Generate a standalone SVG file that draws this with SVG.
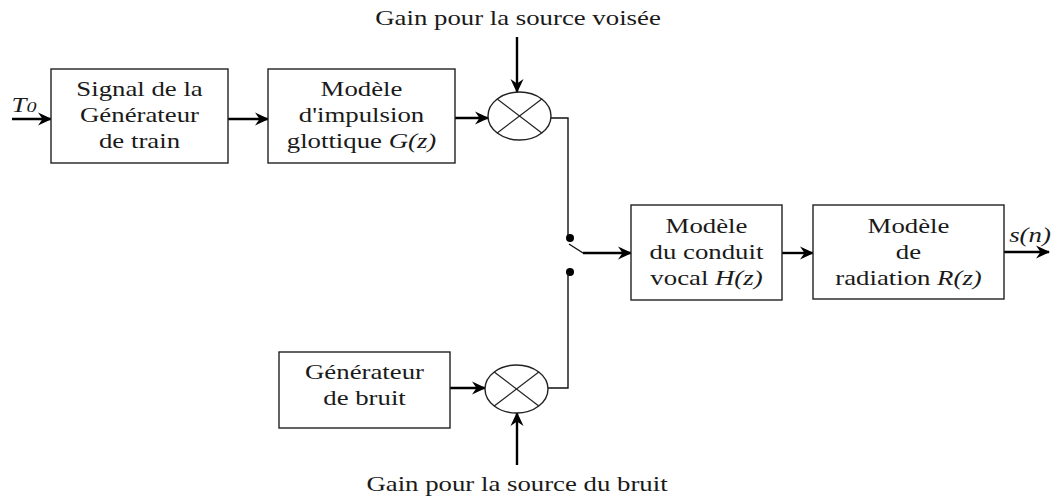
<svg xmlns="http://www.w3.org/2000/svg" width="1054" height="499" viewBox="0 0 1054 499">
<defs>
<style>
.box{fill:#fff;stroke:#222;stroke-width:1.4}
.mul{fill:#fff;stroke:#222;stroke-width:1.4}
.x{stroke:#222;stroke-width:1.2}
.ln{fill:none;stroke:#111;stroke-width:1.4}
.ar{fill:none;stroke:#000;stroke-width:2.4;marker-end:url(#ah)}
.t{font-family:"Liberation Serif","Times New Roman",serif;font-size:20px;fill:#1a1a1a;text-anchor:middle}
.i{font-style:italic}
</style>
<marker id="ah" viewBox="0 0 14 14" refX="13" refY="7" markerWidth="14" markerHeight="14" markerUnits="userSpaceOnUse" orient="auto">
<path d="M0,0.5 L14,7 L0,13.5 L4.5,7 z" fill="#000"/>
</marker>
</defs>
<rect width="1054" height="499" fill="#fff"/>

<g id="connectors">
<line class="ar" x1="12" y1="119" x2="51" y2="119"/>
<line class="ar" x1="228" y1="119" x2="268" y2="119"/>
<line class="ar" x1="455" y1="118" x2="488" y2="118"/>
<line class="ar" x1="517" y1="37" x2="517" y2="92"/>
<polyline class="ln" points="551,118 568,118 568,238"/>
<circle cx="570" cy="238" r="4" fill="#000"/>
<line class="ln" x1="569" y1="244" x2="583" y2="253"/>
<line class="ar" x1="583" y1="253" x2="631" y2="253"/>
<circle cx="570" cy="272" r="4" fill="#000"/>
<polyline class="ln" points="568,272 568,388 548,388"/>
<line class="ar" x1="450" y1="388" x2="485" y2="388"/>
<line class="ar" x1="517" y1="465" x2="517" y2="413"/>
<line class="ar" x1="782" y1="253" x2="813" y2="253"/>
<line class="ar" x1="1004" y1="252" x2="1049" y2="252"/>
</g>

<g id="label-T0">
<text class="t i" transform="translate(24,112) scale(1.34,1)">T<tspan font-size="15">0</tspan></text>
</g>
<g id="label-sn">
<text class="t i" transform="translate(1030,242) scale(1.34,1)">s(n)</text>
</g>
<g id="label-gain-voisee">
<text class="t" transform="translate(518,25) scale(1.34,1)">Gain pour la source voisée</text>
</g>
<g id="label-gain-bruit">
<text class="t" transform="translate(517,491) scale(1.34,1)">Gain pour la source du bruit</text>
</g>

<g id="gen-train">
<rect class="box" x="51" y="69" width="177" height="94"/>
<text class="t" transform="translate(139.5,0) scale(1.34,1)"><tspan x="0" y="96">Signal de la</tspan><tspan x="0" y="122">Générateur</tspan><tspan x="0" y="148">de train</tspan></text>
</g>

<g id="glottique">
<rect class="box" x="268" y="69" width="187" height="94"/>
<text class="t" transform="translate(361.5,0) scale(1.34,1)"><tspan x="0" y="96">Modèle</tspan><tspan x="0" y="122">d'impulsion</tspan><tspan x="0" y="148">glottique <tspan class="i">G(z)</tspan></tspan></text>
</g>

<g id="mult-voise">
<ellipse class="mul" cx="519.5" cy="116" rx="31.5" ry="24"/>
<line class="x" x1="497.2" y1="99" x2="541.8" y2="133"/>
<line class="x" x1="541.8" y1="99" x2="497.2" y2="133"/>
</g>

<g id="gen-bruit">
<rect class="box" x="279" y="352" width="171" height="76"/>
<text class="t" transform="translate(364.5,0) scale(1.34,1)"><tspan x="0" y="379">Générateur</tspan><tspan x="0" y="405">de bruit</tspan></text>
</g>

<g id="mult-bruit">
<ellipse class="mul" cx="516.5" cy="389" rx="31.5" ry="24"/>
<line class="x" x1="494.2" y1="372" x2="538.8" y2="406"/>
<line class="x" x1="538.8" y1="372" x2="494.2" y2="406"/>
</g>

<g id="conduit-vocal">
<rect class="box" x="631" y="205" width="151" height="95"/>
<text class="t" transform="translate(706.5,0) scale(1.34,1)"><tspan x="0" y="233">Modèle</tspan><tspan x="0" y="259">du conduit</tspan><tspan x="0" y="285">vocal <tspan class="i">H(z)</tspan></tspan></text>
</g>

<g id="radiation">
<rect class="box" x="813" y="205" width="191" height="94"/>
<text class="t" transform="translate(908.5,0) scale(1.34,1)"><tspan x="0" y="233">Modèle</tspan><tspan x="0" y="259">de</tspan><tspan x="0" y="285">radiation <tspan class="i">R(z)</tspan></tspan></text>
</g>
</svg>
